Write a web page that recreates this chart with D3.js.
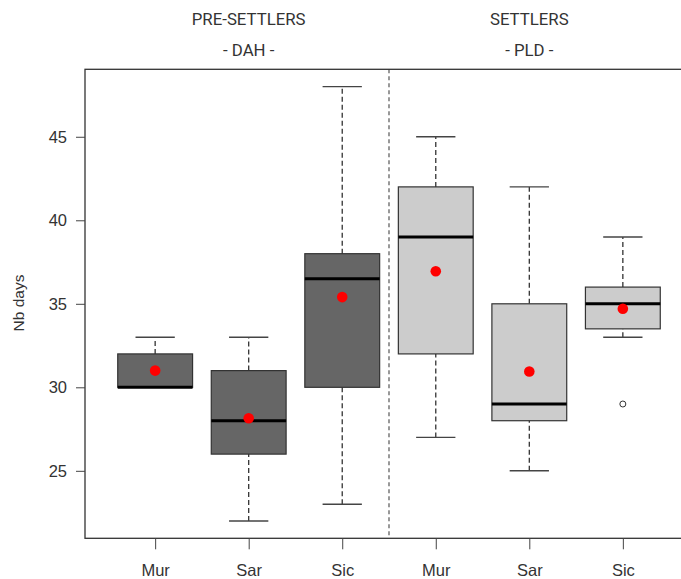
<!DOCTYPE html>
<html>
<head>
<meta charset="utf-8">
<script src="https://cdn.jsdelivr.net/npm/d3@7"></script>
<style>
  html, body { margin: 0; padding: 0; background: #fff; }
  svg { display: block; }
</style>
</head>
<body>
<svg id="chart" width="681" height="579"></svg>
<script>
// Box statistics per sample (days)
const sites      = ["Mur", "Sar", "Sic", "Mur", "Sar", "Sic"];
const groupIndex = [0, 0, 0, 1, 1, 1];
const whiskerLow = [30, 22, 23, 27, 25, 33];
const q1         = [30, 26, 30, 32, 28, 33.5];
const medians    = [30, 28, 36.5, 39, 29, 35];
const q3         = [32, 31, 38, 42, 35, 36];
const whiskerHigh= [33, 33, 48, 45, 42, 39];
const means      = [31, 28.15, 35.4, 36.95, 30.95, 34.7];
const outliers   = [[], [], [], [], [], [29]];

const groupTitles    = ["PRE-SETTLERS", "SETTLERS"];
const groupSubtitles = ["- DAH -", "- PLD -"];
const groupFills     = ["#666666", "#cccccc"];
const yTicks         = [25, 30, 35, 40, 45];

const svg = d3.select("#chart");

const plot = { left: 85, right: 693, top: 69.3, bottom: 538.3 };

const x = d3.scaleLinear().domain([0.25, 6.75]).range([plot.left, plot.right]);
const y = d3.scaleLinear().domain([20.96, 49.04]).range([plot.bottom, plot.top]);

const boxW = x(0.8) - x(0);
const capW = x(0.42) - x(0);

const textColor = "#333";

// Group headers
[0, 1].forEach(g => {
  const cx = (x(g * 3 + 1) + x(g * 3 + 3)) / 2;
  svg.append("text").attr("x", cx).attr("y", 25)
    .attr("text-anchor", "middle").attr("font-family", "Roboto, 'Liberation Sans', sans-serif")
    .attr("font-size", 16.8).attr("fill", textColor).text(groupTitles[g]);
  svg.append("text").attr("x", cx).attr("y", 55.5)
    .attr("text-anchor", "middle").attr("font-family", "Roboto, 'Liberation Sans', sans-serif")
    .attr("font-size", 16.8).attr("fill", textColor).text(groupSubtitles[g]);
});

// Separator between the two groups
svg.append("line")
  .attr("x1", x(3.5)).attr("x2", x(3.5))
  .attr("y1", plot.top).attr("y2", plot.bottom)
  .attr("stroke", "#555").attr("stroke-width", 1.2).attr("stroke-dasharray", "4,3");

// Boxes
const boxes = svg.append("g");
sites.forEach((s, i) => {
  const cx = x(i + 1);
  const g = boxes.append("g");
  // whiskers
  const dashed = [[q3[i], whiskerHigh[i]], [whiskerLow[i], q1[i]]];
  dashed.forEach(([a, b]) => {
    if (b > a) {
      g.append("line").attr("x1", cx).attr("x2", cx)
        .attr("y1", y(a)).attr("y2", y(b))
        .attr("stroke", "#333").attr("stroke-width", 1.3).attr("stroke-dasharray", "5,3");
    }
  });
  [whiskerLow[i], whiskerHigh[i]].forEach(v => {
    g.append("line").attr("x1", cx - capW / 2).attr("x2", cx + capW / 2)
      .attr("y1", y(v)).attr("y2", y(v))
      .attr("stroke", "#444").attr("stroke-width", 1.4);
  });
  // box
  g.append("rect")
    .attr("x", cx - boxW / 2).attr("width", boxW)
    .attr("y", y(q3[i])).attr("height", y(q1[i]) - y(q3[i]))
    .attr("fill", groupFills[groupIndex[i]])
    .attr("stroke", "#333").attr("stroke-width", 1.2);
  // median
  g.append("line").attr("x1", cx - boxW / 2).attr("x2", cx + boxW / 2)
    .attr("y1", y(medians[i])).attr("y2", y(medians[i]))
    .attr("stroke", "#000").attr("stroke-width", 3);
  // outliers
  outliers[i].forEach(v => {
    g.append("circle").attr("cx", cx).attr("cy", y(v)).attr("r", 3)
      .attr("fill", "#fff").attr("stroke", "#333").attr("stroke-width", 1);
  });
  // mean
  g.append("circle").attr("cx", cx).attr("cy", y(means[i])).attr("r", 5.3)
    .attr("fill", "#ff0000");
});

// Frame
svg.append("rect")
  .attr("x", plot.left).attr("y", plot.top)
  .attr("width", plot.right - plot.left).attr("height", plot.bottom - plot.top)
  .attr("fill", "none").attr("stroke", "#333").attr("stroke-width", 1.3);

// Y axis
const yAxis = d3.axisLeft(y).tickValues(yTicks).tickSize(9).tickPadding(9);
const yg = svg.append("g").attr("transform", `translate(${plot.left},0)`).call(yAxis);
yg.select(".domain").remove();
yg.selectAll(".tick line").attr("stroke", "#444");
yg.selectAll(".tick text")
  .attr("font-family", "'Liberation Sans Narrow', 'Liberation Sans', Arial, sans-serif")
  .attr("font-size", 16.5).attr("fill", textColor);

// X axis
const xAxis = d3.axisBottom(x).tickValues(d3.range(1, 7))
  .tickFormat(d => sites[d - 1]).tickSize(11).tickPadding(15);
const xg = svg.append("g").attr("transform", `translate(0,${plot.bottom})`).call(xAxis);
xg.select(".domain").remove();
xg.selectAll(".tick line").attr("stroke", "#444");
xg.selectAll(".tick text")
  .attr("font-family", "'Liberation Sans Narrow', 'Liberation Sans', Arial, sans-serif")
  .attr("font-size", 16.5).attr("fill", textColor);

// Y label
svg.append("text")
  .attr("transform", "translate(24,303) rotate(-90)")
  .attr("text-anchor", "middle")
  .attr("font-family", "'Liberation Sans', Arial, sans-serif")
  .attr("font-size", 15.5).attr("fill", textColor)
  .text("Nb days");
</script>
</body>
</html>
